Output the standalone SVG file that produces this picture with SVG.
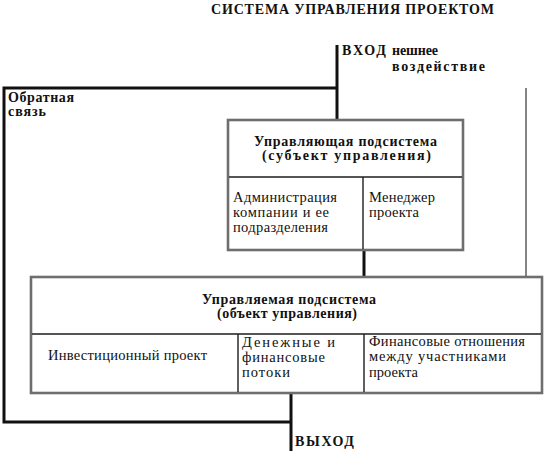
<svg xmlns="http://www.w3.org/2000/svg" width="550" height="458" viewBox="0 0 550 458" font-family="Liberation Serif, Times New Roman, serif">
<style>
text{fill:#111}
.b{font-weight:bold}
.t{font-size:14px}
.h{font-size:14px;font-weight:bold}
.c{font-size:14.5px}
.box{fill:#fff;stroke:#6e6e6e;stroke-width:2.6}
.div{stroke:#1e1e1e;stroke-width:1.4;fill:none}
.ln{stroke:#111;stroke-width:3;fill:none}
.thin{stroke:#333;stroke-width:1.2;fill:none}
</style>
<rect width="550" height="458" fill="#fff"/>
<text id="title" class="b" x="211" y="14" font-size="14" textLength="283">СИСТЕМА УПРАВЛЕНИЯ ПРОЕКТОМ</text>
<g id="connectors">
<polyline class="ln" points="337,45 337,119"/>
<polyline class="ln" points="337,88 4,88 4,422 291,422"/>
<polyline class="ln" points="291,393 291,451"/>
<polyline class="ln" points="364,250 364,277"/>
<polyline class="thin" points="526,88 526,277"/>
</g>
<g id="input-label">
<text class="b t" x="342" y="55" textLength="44">ВХОД</text>
<text class="b t" x="392" y="55" textLength="46">нешнее</text>
<text class="b t" x="392" y="71" textLength="93">воздействие</text>
</g>
<g id="feedback-label">
<text class="b t" x="8" y="102" textLength="66">Обратная</text>
<text class="b t" x="8" y="116" textLength="38">связь</text>
</g>
<g id="output-label">
<text class="b t" x="295" y="446" textLength="59">ВЫХОД</text>
</g>
<g id="control-subsystem">
<rect class="box" x="228" y="120" width="235" height="130"/>
<path class="div" d="M229,177H462M363,177V249"/>
<text class="h" x="254" y="146" textLength="183">Управляющая подсистема</text>
<text class="h" x="262" y="160" textLength="169">(субъект управления)</text>
<text class="c" x="233" y="202" textLength="104">Администрация</text>
<text class="c" x="233" y="217" textLength="96">компании и ее</text>
<text class="c" x="233" y="232" textLength="95">подразделения</text>
<text class="c" x="369" y="202" textLength="66">Менеджер</text>
<text class="c" x="369" y="217" textLength="50">проекта</text>
</g>
<g id="managed-subsystem">
<rect class="box" x="31" y="277" width="511" height="116"/>
<path class="div" d="M32,334H541M238,334V392M364,334V392"/>
<text class="h" x="202" y="304" textLength="174">Управляемая подсистема</text>
<text class="h" x="217" y="318" textLength="140">(объект управления)</text>
<text class="c" x="48" y="360" textLength="159">Инвестиционный проект</text>
<text class="c" x="242" y="347" textLength="93">Денежные и</text>
<text class="c" x="242" y="362" textLength="83">финансовые</text>
<text class="c" x="242" y="377" textLength="48">потоки</text>
<text class="c" x="369" y="346" textLength="156">Финансовые отношения</text>
<text class="c" x="369" y="361" textLength="137">между участниками</text>
<text class="c" x="369" y="377" textLength="49">проекта</text>
</g>
</svg>
